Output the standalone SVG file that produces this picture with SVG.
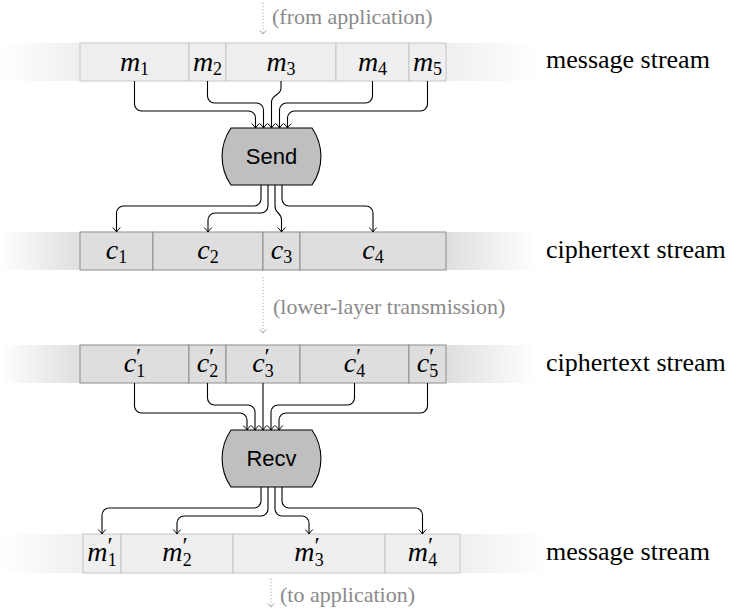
<svg xmlns="http://www.w3.org/2000/svg" width="736" height="610" viewBox="0 0 736 610">
<style>
.mbox{fill:#efefef;stroke:#c6c6c6;stroke-width:1}
.cbox{fill:#dedede;stroke:#8c8c8c;stroke-width:1}
.wire{fill:none;stroke:#000;stroke-width:1.1;marker-end:url(#arr)}
.proc{fill:#bfbfbf;stroke:#000;stroke-width:1.1}
.ptxt{font-family:"Liberation Sans",Arial,sans-serif;font-size:22px;fill:#000;text-anchor:middle}
.lbl{font-family:"Liberation Serif","Times New Roman",serif;font-size:26px;fill:#000}
.math{font-family:"Liberation Serif","Times New Roman",serif;font-style:italic;font-size:28px;fill:#000;text-anchor:middle}
.sub{font-style:normal;font-size:18px}
.pr{font-style:normal;font-size:24px}
.note{font-family:"Liberation Serif","Times New Roman",serif;font-size:22px;fill:#8a8a8a}
.dot{fill:none;stroke:#999;stroke-width:1;stroke-dasharray:1 2.2;marker-end:url(#garr)}
</style>
<defs>
<marker id="arr" markerUnits="userSpaceOnUse" viewBox="-6 -5 7 10" refX="0" refY="0" markerWidth="7" markerHeight="10" orient="auto" overflow="visible">
<path d="M-4.5,-3.8 Q-1.6,-0.9 0,0 Q-1.6,0.9 -4.5,3.8" fill="none" stroke="#000" stroke-width="1"/>
</marker>
<marker id="garr" markerUnits="userSpaceOnUse" viewBox="-6 -5 7 10" refX="0" refY="0" markerWidth="7" markerHeight="10" orient="auto" overflow="visible">
<path d="M-3.5,-3.5 Q-1.3,-0.8 0,0 Q-1.3,0.8 -3.5,3.5" fill="none" stroke="#999" stroke-width="0.9"/>
</marker>
<linearGradient id="mL" x1="0" y1="0" x2="1" y2="0"><stop offset="0" stop-color="#efefef" stop-opacity="0"/><stop offset="1" stop-color="#efefef"/></linearGradient>
<linearGradient id="mR" x1="0" y1="0" x2="1" y2="0"><stop offset="0" stop-color="#efefef"/><stop offset="1" stop-color="#efefef" stop-opacity="0"/></linearGradient>
<linearGradient id="cL" x1="0" y1="0" x2="1" y2="0"><stop offset="0" stop-color="#dedede" stop-opacity="0"/><stop offset="1" stop-color="#dedede"/></linearGradient>
<linearGradient id="cR" x1="0" y1="0" x2="1" y2="0"><stop offset="0" stop-color="#dedede"/><stop offset="1" stop-color="#dedede" stop-opacity="0"/></linearGradient>
</defs>

<!-- stream bands -->
<g id="bands">
<rect x="0" y="43" width="80" height="38" fill="url(#mL)"/>
<rect x="446" y="43" width="90" height="38" fill="url(#mR)"/>
<rect x="0" y="232" width="80" height="38" fill="url(#cL)"/>
<rect x="446" y="232" width="90" height="38" fill="url(#cR)"/>
<rect x="0" y="345" width="80" height="38" fill="url(#cL)"/>
<rect x="446" y="345" width="90" height="38" fill="url(#cR)"/>
<rect x="0" y="534" width="83" height="39" fill="url(#mL)"/>
<rect x="460" y="534" width="88" height="39" fill="url(#mR)"/>
</g>

<!-- top message stream -->
<g id="m1"><rect class="mbox" x="80" y="43" width="109" height="38"/><text class="math" x="134.5" y="71">m<tspan class="sub" dy="4">1</tspan></text></g>
<g id="m2"><rect class="mbox" x="189" y="43" width="37" height="38"/><text class="math" x="207.5" y="71">m<tspan class="sub" dy="4">2</tspan></text></g>
<g id="m3"><rect class="mbox" x="226" y="43" width="110" height="38"/><text class="math" x="281" y="71">m<tspan class="sub" dy="4">3</tspan></text></g>
<g id="m4"><rect class="mbox" x="336" y="43" width="73" height="38"/><text class="math" x="372.5" y="71">m<tspan class="sub" dy="4">4</tspan></text></g>
<g id="m5"><rect class="mbox" x="409" y="43" width="37" height="38"/><text class="math" x="427.5" y="71">m<tspan class="sub" dy="4">5</tspan></text></g>

<!-- ciphertext stream 1 -->
<g id="c1"><rect class="cbox" x="80" y="232" width="73" height="38"/><text class="math" x="116.5" y="259">c<tspan class="sub" dy="4">1</tspan></text></g>
<g id="c2"><rect class="cbox" x="153" y="232" width="110" height="38"/><text class="math" x="208" y="259">c<tspan class="sub" dy="4">2</tspan></text></g>
<g id="c3"><rect class="cbox" x="263" y="232" width="37" height="38"/><text class="math" x="281.5" y="259">c<tspan class="sub" dy="4">3</tspan></text></g>
<g id="c4"><rect class="cbox" x="300" y="232" width="146" height="38"/><text class="math" x="373" y="259">c<tspan class="sub" dy="4">4</tspan></text></g>

<!-- ciphertext stream 2 -->
<g id="cp1"><rect class="cbox" x="80" y="345" width="109" height="38"/><text class="math" x="134.5" y="372">c<tspan class="pr" dy="-8">′</tspan><tspan class="sub" dx="-5" dy="13">1</tspan></text></g>
<g id="cp2"><rect class="cbox" x="189" y="345" width="37" height="38"/><text class="math" x="207.5" y="372">c<tspan class="pr" dy="-8">′</tspan><tspan class="sub" dx="-5" dy="13">2</tspan></text></g>
<g id="cp3"><rect class="cbox" x="226" y="345" width="74" height="38"/><text class="math" x="263" y="372">c<tspan class="pr" dy="-8">′</tspan><tspan class="sub" dx="-5" dy="13">3</tspan></text></g>
<g id="cp4"><rect class="cbox" x="300" y="345" width="109" height="38"/><text class="math" x="354.5" y="372">c<tspan class="pr" dy="-8">′</tspan><tspan class="sub" dx="-5" dy="13">4</tspan></text></g>
<g id="cp5"><rect class="cbox" x="409" y="345" width="37" height="38"/><text class="math" x="427.5" y="372">c<tspan class="pr" dy="-8">′</tspan><tspan class="sub" dx="-5" dy="13">5</tspan></text></g>

<!-- bottom message stream -->
<g id="mp1"><rect class="mbox" x="83" y="534" width="38" height="39"/><text class="math" x="102" y="561">m<tspan class="pr" dy="-8">′</tspan><tspan class="sub" dx="-5" dy="13">1</tspan></text></g>
<g id="mp2"><rect class="mbox" x="121" y="534" width="112" height="39"/><text class="math" x="177" y="561">m<tspan class="pr" dy="-8">′</tspan><tspan class="sub" dx="-5" dy="13">2</tspan></text></g>
<g id="mp3"><rect class="mbox" x="233" y="534" width="152" height="39"/><text class="math" x="309" y="561">m<tspan class="pr" dy="-8">′</tspan><tspan class="sub" dx="-5" dy="13">3</tspan></text></g>
<g id="mp4"><rect class="mbox" x="385" y="534" width="75" height="39"/><text class="math" x="422.5" y="561">m<tspan class="pr" dy="-8">′</tspan><tspan class="sub" dx="-5" dy="13">4</tspan></text></g>

<!-- process nodes -->
<g id="send"><path class="proc" d="M231,128 H312 A50,50 0 0 1 312,185 H231 A50,50 0 0 1 231,128 Z"/><text class="ptxt" x="271.5" y="164">Send</text></g>
<g id="recv"><path class="proc" d="M231,430 H312 A50,50 0 0 1 312,487 H231 A50,50 0 0 1 231,430 Z"/><text class="ptxt" x="271.5" y="466">Recv</text></g>

<!-- stream labels -->
<g id="labels">
<text class="lbl" x="546" y="68">message stream</text>
<text class="lbl" x="546" y="258">ciphertext stream</text>
<text class="lbl" x="546" y="371">ciphertext stream</text>
<text class="lbl" x="546" y="560">message stream</text>
<text class="note" x="272" y="24">(from application)</text>
<text class="note" x="273" y="314">(lower-layer transmission)</text>
<text class="note" x="280" y="602">(to application)</text>
</g>

<!-- connectors -->
<g id="connectors">
<path class="dot" d="M263,3 V34"/>
<path class="dot" d="M263,277 V333"/>
<path class="dot" d="M271,579 V607"/>

<path class="wire" d="M134.5,81 V104 A7,7 0 0 0 141.5,111 H248.5 A7,7 0 0 1 255.5,118 V128"/>
<path class="wire" d="M207.5,81 V96 A7,7 0 0 0 214.5,103 H256.5 A7,7 0 0 1 263.5,110 V128"/>
<path class="wire" d="M281,81 V88 C281,96 271.5,94 271.5,102 V128"/>
<path class="wire" d="M372.5,81 V96 A7,7 0 0 1 365.5,103 H286.5 A7,7 0 0 0 279.5,110 V128"/>
<path class="wire" d="M427.5,81 V104 A7,7 0 0 1 420.5,111 H294.5 A7,7 0 0 0 287.5,118 V128"/>

<path class="wire" d="M261,185 V199 A7,7 0 0 1 254,206 H123.5 A7,7 0 0 0 116.5,213 V232"/>
<path class="wire" d="M268,185 V206 A7,7 0 0 1 261,213 H215 A7,7 0 0 0 208,220 V232"/>
<path class="wire" d="M275,185 V206 C275,214 281.5,212 281.5,220 V232"/>
<path class="wire" d="M282,185 V199 A7,7 0 0 0 289,206 H366 A7,7 0 0 1 373,213 V232"/>

<path class="wire" d="M134.5,383 V406 A7,7 0 0 0 141.5,413 H240 A7,7 0 0 1 247,420 V430"/>
<path class="wire" d="M207.5,383 V398 A7,7 0 0 0 214.5,405 H248 A7,7 0 0 1 255,412 V430"/>
<path class="wire" d="M263,383 V430"/>
<path class="wire" d="M354.5,383 V398 A7,7 0 0 1 347.5,405 H278 A7,7 0 0 0 271,412 V430"/>
<path class="wire" d="M427.5,383 V406 A7,7 0 0 1 420.5,413 H286 A7,7 0 0 0 279,420 V430"/>

<path class="wire" d="M261,487 V501 A7,7 0 0 1 254,508 H109 A7,7 0 0 0 102,515 V534"/>
<path class="wire" d="M268,487 V509 A7,7 0 0 1 261,516 H184 A7,7 0 0 0 177,523 V534"/>
<path class="wire" d="M275,487 V509 A7,7 0 0 0 282,516 H302 A7,7 0 0 1 309,523 V534"/>
<path class="wire" d="M282,487 V501 A7,7 0 0 0 289,508 H415.5 A7,7 0 0 1 422.5,515 V534"/>
</g>
</svg>
